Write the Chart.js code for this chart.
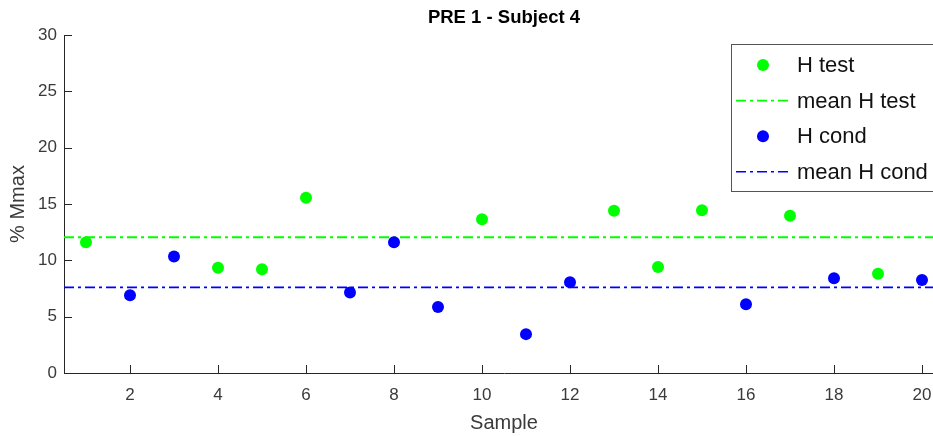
<!DOCTYPE html>
<html>
<head>
<meta charset="utf-8">
<title>PRE 1 - Subject 4</title>
<script src="https://cdn.jsdelivr.net/npm/chart.js@4.4.0/dist/chart.umd.min.js"></script>
<style>
    html, body { margin: 0; padding: 0; background: #fff; overflow: hidden; }
    #wrap { width: 1008px; height: 436px; }
</style>
</head>
<body>
<div id="wrap"><canvas id="chart"></canvas></div>
<script>
// data
const testSamples = [1, 4, 5, 6, 10, 13, 14, 15, 17, 19];
const testValues = [11.6, 9.35, 9.2, 15.55, 13.65, 14.4, 9.4, 14.45, 13.95, 8.8];
const condSamples = [2, 3, 7, 8, 9, 11, 12, 16, 18, 20];
const condValues = [6.9, 10.35, 7.15, 11.6, 5.85, 3.45, 8.05, 6.1, 8.4, 8.25];
const meanTest = 12.05;
const meanCond = 7.6;

const xTicks = [2, 4, 6, 8, 10, 12, 14, 16, 18, 20];
const yTicks = [0, 5, 10, 15, 20, 25, 30];
const xMin = 0.5, xMax = 20.5;

const axisColor = '#262626';
const labelColor = '#3a3a3a';
const green = '#00ff00';
const blue = '#0000ff';
const dashDot = [10, 4, 3, 4];

function toPoints(xs, ys) {
    return xs.map((x, i) => ({ x: x, y: ys[i] }));
}

// matlab style ticks pointing into the plot
const innerTicks = {
    id: 'innerTicks',
    afterDatasetsDraw(chart) {
        const ctx = chart.ctx;
        const area = chart.chartArea;
        const xs = chart.scales.x;
        const ys = chart.scales.y;
        ctx.save();
        ctx.strokeStyle = axisColor;
        ctx.lineWidth = 1;
        ctx.beginPath();
        xTicks.forEach(v => {
            const px = Math.round(xs.getPixelForValue(v)) + 0.5;
            ctx.moveTo(px, area.bottom);
            ctx.lineTo(px, area.bottom - 8);
        });
        yTicks.forEach(v => {
            const py = Math.round(ys.getPixelForValue(v)) + 0.5;
            ctx.moveTo(area.left, py);
            ctx.lineTo(area.left + 8, py);
        });
        ctx.stroke();
        ctx.restore();
    }
};

// boxed legend inside the axes, top right
const boxLegend = {
    id: 'boxLegend',
    afterDraw(chart) {
        const ctx = chart.ctx;
        const area = chart.chartArea;
        const left = area.right - 213;
        const top = area.top + 9;
        const rowH = 35.6;
        ctx.save();
        ctx.fillStyle = '#fff';
        ctx.strokeStyle = '#555';
        ctx.lineWidth = 1;
        ctx.fillRect(left, top, 230, 147);
        ctx.strokeRect(Math.round(left) + 0.5, Math.round(top) + 0.5, 230, 147);
        ctx.font = "22px 'Liberation Sans', Arial, sans-serif";
        ctx.textBaseline = 'middle';
        chart.data.datasets.forEach((ds, i) => {
            const cy = top + 21 + i * rowH;
            if (ds.showLine) {
                ctx.strokeStyle = ds.borderColor;
                ctx.lineWidth = ds.borderWidth;
                ctx.setLineDash(ds.borderDash);
                ctx.beginPath();
                ctx.moveTo(left + 5, cy);
                ctx.lineTo(left + 61, cy);
                ctx.stroke();
                ctx.setLineDash([]);
            } else {
                ctx.fillStyle = ds.backgroundColor;
                ctx.beginPath();
                ctx.arc(left + 32, cy, ds.pointRadius, 0, Math.PI * 2);
                ctx.fill();
            }
            ctx.fillStyle = '#111';
            ctx.fillText(ds.label, left + 66, cy + 1);
        });
        ctx.restore();
    }
};

Chart.defaults.font.family = "'Liberation Sans', Arial, sans-serif";
Chart.defaults.color = labelColor;

new Chart(document.getElementById('chart'), {
    type: 'scatter',
    data: {
        datasets: [
            {
                label: 'H test',
                data: toPoints(testSamples, testValues),
                backgroundColor: green,
                borderColor: green,
                pointRadius: 6,
                pointBorderWidth: 0,
                order: 1
            },
            {
                label: 'mean H test',
                data: [{ x: xMin, y: meanTest }, { x: xMax, y: meanTest }],
                showLine: true,
                borderColor: green,
                backgroundColor: green,
                borderWidth: 1.8,
                borderDash: dashDot,
                pointRadius: 0,
                order: 2
            },
            {
                label: 'H cond',
                data: toPoints(condSamples, condValues),
                backgroundColor: blue,
                borderColor: blue,
                pointRadius: 6,
                pointBorderWidth: 0,
                order: 1
            },
            {
                label: 'mean H cond',
                data: [{ x: xMin, y: meanCond }, { x: xMax, y: meanCond }],
                showLine: true,
                borderColor: blue,
                backgroundColor: blue,
                borderWidth: 1.6,
                borderDash: dashDot,
                pointRadius: 0,
                order: 2
            }
        ]
    },
    options: {
        responsive: true,
        maintainAspectRatio: false,
        animation: false,
        layout: { padding: { left: 0, right: 64, top: 0, bottom: 0 } },
        plugins: {
            legend: { display: false },
            tooltip: { enabled: false },
            title: {
                display: true,
                text: 'PRE 1 - Subject 4',
                fullSize: false,
                color: '#000',
                font: { size: 18.5, weight: 'bold' },
                padding: { top: 7, bottom: 5.8 }
            }
        },
        scales: {
            x: {
                type: 'linear',
                min: xMin,
                max: xMax,
                afterBuildTicks: s => { s.ticks = xTicks.map(v => ({ value: v })); },
                afterFit: s => { s.height = 63; },
                grid: { display: false, drawTicks: false },
                border: { display: true, color: axisColor, width: 1 },
                ticks: { padding: 12, font: { size: 17 }, color: labelColor, maxRotation: 0 },
                title: {
                    display: true,
                    text: 'Sample',
                    font: { size: 20 },
                    color: labelColor,
                    padding: { top: 0, bottom: 1 }
                }
            },
            y: {
                min: 0,
                max: 30,
                afterBuildTicks: s => { s.ticks = yTicks.map(v => ({ value: v })); },
                afterFit: s => { s.width = 64; },
                grid: { display: false, drawTicks: false },
                border: { display: true, color: axisColor, width: 1 },
                ticks: { padding: 7, font: { size: 17 }, color: labelColor },
                title: {
                    display: true,
                    text: '% Mmax',
                    font: { size: 20 },
                    color: labelColor,
                    padding: { top: 6, bottom: 0 }
                }
            }
        }
    },
    plugins: [innerTicks, boxLegend]
});
</script>
</body>
</html>
